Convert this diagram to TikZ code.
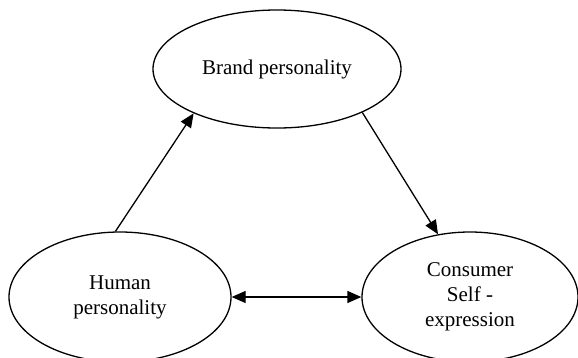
\documentclass[tikz,border=0pt]{standalone}
\usepackage{fontspec}
\setmainfont{Liberation Serif}
\usetikzlibrary{positioning, arrows.meta, shapes.geometric}

\begin{document}
\begin{tikzpicture}
		[x=1pt,y=-1pt,->,>={Triangle[length=14pt,width=12pt]},line width=1.3pt,
		font=\fontsize{21}{25}\selectfont]
		\useasboundingbox (0,0) rectangle (578,357);
		\node[ellipse,draw,minimum width=248pt,minimum height=118pt] (bp) at (277,69) {Brand personality};
		\node[ellipse,draw,minimum width=222pt,minimum height=130pt,align=center] (hp) at (120,297) {Human\\personality};
		\node[ellipse,draw,minimum width=216pt,minimum height=130pt,align=center] (cs) at (470,297) {Consumer\\Self -\\expression};
		
		\path (hp.94) edge (bp.208);
		\path (bp.333) edge (cs.117);
		\path (hp.east) edge[<->] (cs.west);
		
	\end{tikzpicture}
\end{document}
